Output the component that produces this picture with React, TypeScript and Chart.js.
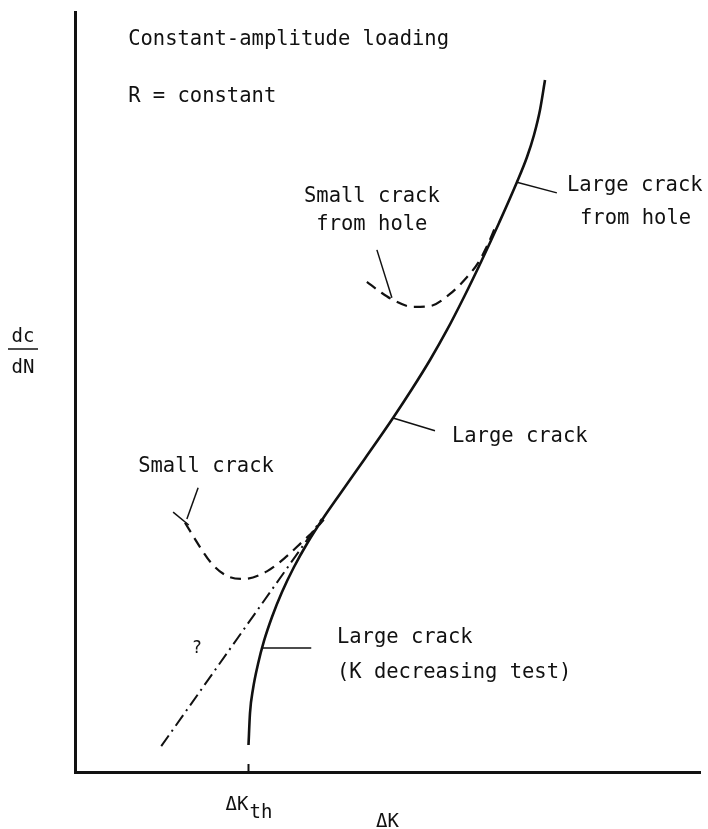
import React, { useEffect, useRef } from "react";
import { Chart, registerables } from "chart.js";

Chart.register(...registerables);

// Schematic units: x = ΔK (arbitrary, 0..10), y = log(dc/dN) (arbitrary, 0..10)
const largeCrackX = [2.776, 2.8, 2.848, 2.928, 3.024, 3.152, 3.312, 3.504, 3.728, 3.952, 4.24, 4.64, 5.088, 5.392, 5.68, 5.952, 6.224, 6.496, 6.784, 7.072, 7.232, 7.344, 7.44, 7.52];
const largeCrackY = [0.355, 0.776, 1.092, 1.421, 1.724, 2.039, 2.368, 2.697, 3.026, 3.316, 3.658, 4.125, 4.658, 5.039, 5.421, 5.816, 6.25, 6.711, 7.224, 7.763, 8.092, 8.382, 8.711, 9.105];

const extrapX = [1.38, 3.95];
const extrapY = [0.34, 3.33];

const smallCrackX = [1.76, 2.0, 2.19, 2.43, 2.69, 3.07, 3.39, 3.65, 3.82, 3.98];
const smallCrackY = [3.28, 2.96, 2.74, 2.58, 2.54, 2.64, 2.84, 3.04, 3.17, 3.32];

const holeSmallX = [4.67, 4.88, 5.09, 5.41, 5.68, 6.0, 6.27, 6.45, 6.61, 6.72];
const holeSmallY = [6.45, 6.32, 6.21, 6.12, 6.13, 6.29, 6.51, 6.7, 6.95, 7.16];

const dKth = 2.776;
const xMin = 0, xMax = 10, yMin = 0, yMax = 10;

// leader lines [x1, y1, x2, y2]
const leaderSmallCrack = [1.97, 3.74, 1.79, 3.33];
const capSmallCrack = [1.57, 3.42, 1.82, 3.25];
const leaderHoleSmall = [4.83, 6.87, 5.07, 6.24];
const leaderHoleLarge = [7.07, 7.76, 7.71, 7.62];
const leaderLarge = [5.088, 4.658, 5.76, 4.49];
const leaderDecreasing = [2.98, 1.63, 3.78, 1.63];

// annotations: text, x, y, align
const noteTexts = ["Constant-amplitude loading", "R = constant", "Small crack", "from hole", "Large crack", "from hole", "Large crack", "Small crack", "Large crack", "(K decreasing test)"];
const noteX = [0.85, 0.85, 4.75, 4.75, 7.87, 8.08, 6.03, 1.01, 4.19, 4.19];
const noteY = [9.57, 8.82, 7.5, 7.13, 7.64, 7.21, 4.34, 3.95, 1.7, 1.24];
const noteAlign = ["left", "left", "center", "center", "left", "left", "left", "left", "left", "left"];

const zip = (xs: number[], ys: number[]) => xs.map((x, i) => ({ x, y: ys[i] }));
const seg = (s: number[]) => [{ x: s[0], y: s[1] }, { x: s[2], y: s[3] }];

const FONT = '"DejaVu Sans Mono", monospace';
const INK = "#111";

const annotationPlugin = {
  id: "annotations",
  afterDraw(chart: any) {
    const { ctx, chartArea } = chart;
    const xs = chart.scales.x;
    const ys = chart.scales.y;
    ctx.save();
    ctx.fillStyle = INK;
    ctx.strokeStyle = INK;
    ctx.textBaseline = "alphabetic";
    ctx.font = `20.5px ${FONT}`;
    noteTexts.forEach((t, i) => {
      ctx.textAlign = noteAlign[i];
      ctx.fillText(t, xs.getPixelForValue(noteX[i]), ys.getPixelForValue(noteY[i]));
    });
    // question mark
    ctx.font = `17px ${FONT}`;
    ctx.textAlign = "center";
    ctx.fillText("?", xs.getPixelForValue(1.95), ys.getPixelForValue(1.57));
    // threshold tick
    const tx = xs.getPixelForValue(dKth);
    ctx.lineWidth = 2;
    ctx.beginPath();
    ctx.moveTo(tx, chartArea.bottom);
    ctx.lineTo(tx, chartArea.bottom - 8);
    ctx.stroke();
    // ΔKth label
    ctx.font = `19px ${FONT}`;
    ctx.textAlign = "right";
    ctx.fillText("ΔK", tx, chartArea.bottom + 38);
    ctx.textAlign = "left";
    ctx.fillText("th", tx + 1, chartArea.bottom + 46);
    // ΔK axis title
    ctx.textAlign = "center";
    ctx.fillText("ΔK", (chartArea.left + chartArea.right) / 2, chartArea.bottom + 55);
    // dc/dN axis title
    ctx.font = `19px ${FONT}`;
    const cx = chartArea.left - 52;
    ctx.fillText("dc", cx, 342);
    ctx.fillText("dN", cx, 373);
    ctx.lineWidth = 1.5;
    ctx.beginPath();
    ctx.moveTo(cx - 15, 349);
    ctx.lineTo(cx + 15, 349);
    ctx.stroke();
    ctx.restore();
  },
};

export default function App() {
  const ref = useRef<HTMLCanvasElement | null>(null);
  useEffect(() => {
    if (!ref.current) return;
    const leader = (s: number[]) => ({
      data: seg(s),
      borderColor: INK,
      borderWidth: 1.5,
      pointRadius: 0,
      tension: 0,
    });
    const chart = new Chart(ref.current, {
      type: "line",
      data: {
        datasets: [
          {
            label: "Large crack",
            data: zip(largeCrackX, largeCrackY),
            borderColor: INK,
            borderWidth: 2.6,
            pointRadius: 0,
            cubicInterpolationMode: "monotone",
          },
          {
            label: "Extrapolation",
            data: zip(extrapX, extrapY),
            borderColor: INK,
            borderWidth: 2,
            borderDash: [13, 5, 2, 5],
            pointRadius: 0,
          },
          {
            label: "Small crack",
            data: zip(smallCrackX, smallCrackY),
            borderColor: INK,
            borderWidth: 2.2,
            borderDash: [11, 7],
            pointRadius: 0,
            cubicInterpolationMode: "monotone",
          },
          {
            label: "Small crack from hole",
            data: zip(holeSmallX, holeSmallY),
            borderColor: INK,
            borderWidth: 2.2,
            borderDash: [11, 7],
            pointRadius: 0,
            cubicInterpolationMode: "monotone",
          },
          leader(leaderSmallCrack),
          leader(capSmallCrack),
          leader(leaderHoleSmall),
          leader(leaderHoleLarge),
          leader(leaderLarge),
          leader(leaderDecreasing),
        ] as any,
      },
      options: {
        responsive: false,
        animation: false,
        devicePixelRatio: 1,
        layout: { padding: { left: 75, right: 8, top: 12, bottom: 57 } },
        plugins: { legend: { display: false }, tooltip: { enabled: false } },
        scales: {
          x: {
            type: "linear",
            min: xMin,
            max: xMax,
            grid: { display: false, drawTicks: false },
            ticks: { display: false },
            border: { display: true, color: INK, width: 3 },
          },
          y: {
            type: "linear",
            min: yMin,
            max: yMax,
            grid: { display: false, drawTicks: false },
            ticks: { display: false },
            border: { display: true, color: INK, width: 3 },
          },
        },
      } as any,
      plugins: [annotationPlugin],
    });
    return () => chart.destroy();
  }, []);
  return (
    <div style={{ position: "fixed", left: 0, top: 0, width: 708, height: 829, background: "#fff" }}>
      <canvas ref={ref} width={708} height={829} style={{ display: "block" }} />
    </div>
  );
}
